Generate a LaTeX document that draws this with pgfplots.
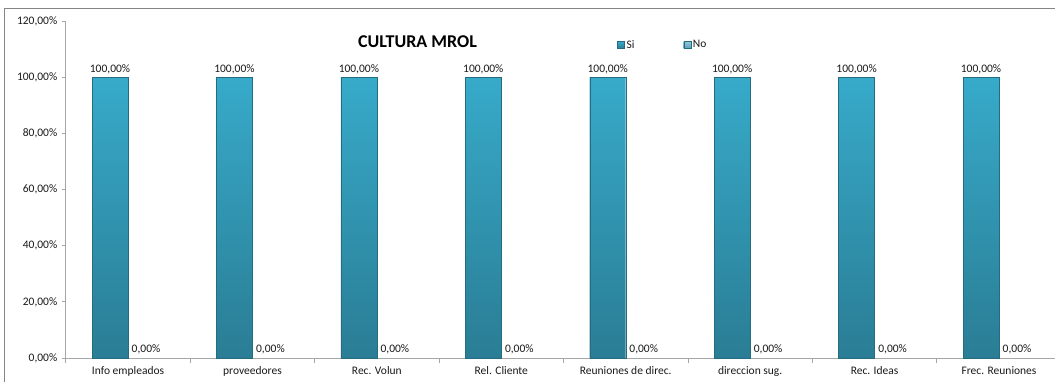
\documentclass[border=0pt]{standalone}
\usepackage{pgfplots}
\pgfplotsset{compat=1.18}
\usepackage{fontspec}
\setmainfont{Carlito}
\definecolor{barTop}{HTML}{37AACA}
\definecolor{barBot}{HTML}{2A7D94}
\definecolor{barEdge}{HTML}{256C80}
\definecolor{noTop}{HTML}{8CC6DB}
\definecolor{noBot}{HTML}{5E9FB8}
\definecolor{axisgray}{HTML}{A6A6A6}
\definecolor{txt}{HTML}{1A1A1A}
\begin{document}
\begin{tikzpicture}[x=1pt,y=1pt]
\clip (0,0) rectangle (1055,381);
\fill[white] (0,0) rectangle (1055,381);
\draw[axisgray!80!black, line width=0.8pt] (4,-20) -- (4,373) -- (1080,373);
\begin{axis}[
  at={(65.8pt,23pt)}, anchor=south west,
  scale only axis, width=989.2pt, height=337pt,
  ybar=0pt, bar width=36pt,
  xmin=-0.5, xmax=7.45, ymin=0, ymax=120,
  axis x line*=bottom, axis y line*=left,
  axis line style={axisgray, line width=0.8pt},
  ytick={0,20,40,60,80,100,120},
  xtick={0,1,2,3,4,5,6,7},
  xticklabels={Info empleados,proveedores,Rec. Volun,Rel. Cliente,Reuniones de direc.,direccion sug.,Rec. Ideas,Frec. Reuniones},
  minor xtick={-0.5,0.5,1.5,2.5,3.5,4.5,5.5,6.5},
  major x tick style={draw=none},
  minor tick length=5pt,
  minor x tick style={axisgray, line width=0.8pt},
  tick align=outside,
  major tick length=4pt,
  ytick style={axisgray, line width=0.8pt},
  /pgf/number format/assume math mode=true,
  /pgf/number format/.cd, fixed, fixed zerofill, precision=2, use comma, 1000 sep={},
  /pgfplots/.cd,
  yticklabel={\pgfmathprintnumber{\tick}\%},
  yticklabel style={font=\fontsize{11.5}{13}\selectfont, text=txt, xshift=-1pt},
  xticklabel style={font=\fontsize{11.5}{13}\selectfont, text=txt, yshift=-1pt},
  nodes near coords={\pgfmathprintnumber{\pgfplotspointmeta}\%},
  nodes near coords style={font=\fontsize{11.5}{13}\selectfont, text=txt},
  legend style={at={(0.5572,0.9288)}, anchor=west, draw=none, fill=none, inner sep=0pt,
    font=\fontsize{11.5}{13}\selectfont, text=txt,
    /tikz/every even column/.append style={column sep=47pt}},
  legend columns=2,
  legend image code/.code={\draw[#1, draw=barEdge, line width=0.4pt] (0pt,-3.5pt) rectangle (7pt,3.5pt);},
  clip=false,
]
\addplot[draw=barEdge, line width=0.4pt, top color=barTop, bottom color=barBot] coordinates {
  (0,100) (1,100) (2,100) (3,100) (4,100) (5,100) (6,100) (7,100)};
\addplot[draw=none, top color=noTop, bottom color=noBot] coordinates {
  (0,0) (1,0) (2,0) (3,0) (4,0) (5,0) (6,0) (7,0)};
\legend{Si,No}
\node[font=\fontsize{18}{20}\selectfont\bfseries, text=black] at (rel axis cs:0.3555,0.9377) {CULTURA MROL};
\end{axis}
\end{tikzpicture}
\end{document}
